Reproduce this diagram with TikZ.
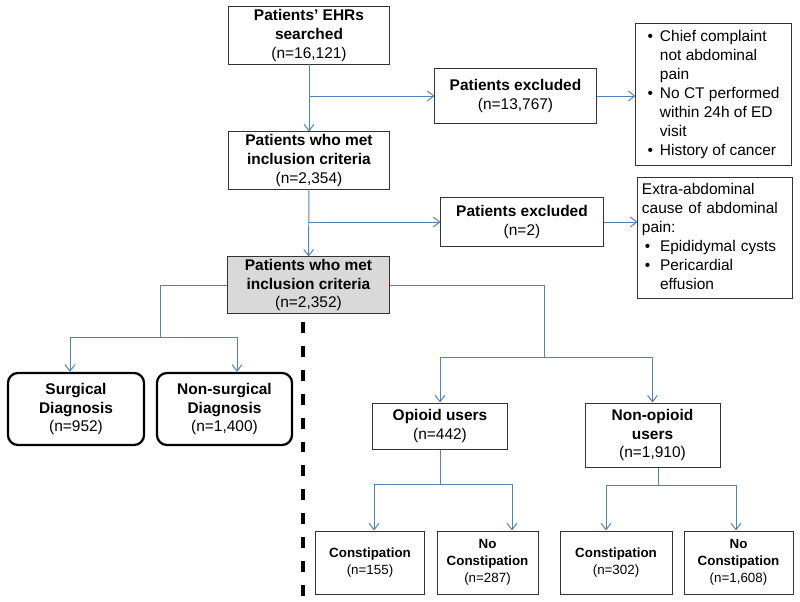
\documentclass[tikz,border=0pt]{standalone}
\usepackage{fontspec}
\setmainfont{Liberation Sans}
\usetikzlibrary{arrows.meta}
\definecolor{linkblue}{RGB}{79,129,189}
\definecolor{boxgrey}{RGB}{217,217,217}
\begin{document}
\begin{tikzpicture}[x=0.025cm, y=-0.025cm,
  box/.style={draw=black!80, line width=0.7pt, inner sep=0pt, align=center, font=\fontsize{11}{13.5}\selectfont},
  smallbox/.style={box, minimum height=1.575cm, font=\fontsize{9.5}{12}\selectfont},
  armbox/.style={box, draw=black, line width=1.6pt, rounded corners=0.25cm, minimum width=3.4cm, minimum height=1.8cm},
  link/.style={draw=linkblue, line width=0.7pt},
  >={Straight Barb[length=4.5pt,width=7pt]}]
\useasboundingbox (0,0) rectangle (800,602);

% screening
\node (A) at (309,35.5) [box, minimum width=4cm, minimum height=1.425cm] {\textbf{Patients’ EHRs}\\\textbf{searched}\\(n=16,121)};
\node (excl1) at (515.5,96) [box, minimum width=4.025cm, minimum height=1.35cm] {\textbf{Patients excluded}\\(n=13,767)};
\node (bul1) at (713.5,94.5) [box, minimum width=3.875cm, minimum height=3.525cm] {\begin{tabular}{@{}l@{\hspace{5pt}}l@{}}
\textbullet & Chief complaint\\ & not abdominal\\ & pain\\
\textbullet & No CT performed\\ & within 24h of ED\\ & visit\\
\textbullet & History of cancer\end{tabular}};
\node (B) at (309,160.5) [box, minimum width=4cm, minimum height=1.425cm] {\textbf{Patients who met}\\\textbf{inclusion criteria}\\(n=2,354)};
\node (excl2) at (522,222) [box, minimum width=4.05cm, minimum height=1.2cm] {\textbf{Patients excluded}\\(n=2)};
\node (bul2) at (715,238) [box, align=left, text width=3.65cm, minimum width=3.85cm, minimum height=3cm] {\begin{tabular}{@{\hspace{2pt}}l@{\hspace{7pt}}l@{}}
\multicolumn{2}{@{}l@{}}{Extra-abdominal}\\ \multicolumn{2}{@{}l@{}}{cause of abdominal}\\ \multicolumn{2}{@{}l@{}}{pain:}\\
\textbullet & Epididymal cysts\\ \textbullet & Pericardial\\ & effusion\end{tabular}};
\node (C) at (308.5,285) [box, fill=boxgrey, minimum width=4.025cm, minimum height=1.4cm] {\textbf{Patients who met}\\\textbf{inclusion criteria}\\(n=2,352)};

% diagnosis
\node (surg) at (76,409) [armbox] {\textbf{Surgical}\\\textbf{Diagnosis}\\(n=952)};
\node (nonsurg) at (224.5,409) [armbox, minimum width=3.375cm] {\textbf{Non-surgical}\\\textbf{Diagnosis}\\(n=1,400)};

% opioid use
\node (opioid) at (440,426) [box, minimum width=3.35cm, minimum height=1.15cm] {\textbf{Opioid users}\\(n=442)};
\node (nonop) at (652.5,435) [box, minimum width=3.375cm, minimum height=1.6cm] {\textbf{Non-opioid}\\\textbf{users}\\(n=1,910)};
\node (con1) at (370,562.5) [smallbox, minimum width=2.7cm] {\textbf{Constipation}\\(n=155)};
\node (nocon1) at (487.5,562.5) [smallbox, minimum width=2.525cm] {\textbf{No}\\\textbf{Constipation}\\(n=287)};
\node (con2) at (616,562.5) [smallbox, minimum width=2.8cm] {\textbf{Constipation}\\(n=302)};
\node (nocon2) at (738.5,562.5) [smallbox, minimum width=2.725cm] {\textbf{No}\\\textbf{Constipation}\\(n=1,608)};

\coordinate (cl) at (160,337);
\coordinate (sl) at (70,337);
\coordinate (sr) at (237,337);
\coordinate (cr) at (544,357);
\coordinate (ob) at (440,484);
\coordinate (o1) at (374,484);
\coordinate (o2) at (512,484);
\coordinate (nb) at (658,485);
\coordinate (n1) at (606,485);
\coordinate (n2) at (736,485);
\coordinate (dtop) at (303,322);
\coordinate (dbot) at (303,602);

\draw[link, ->] (A) -- (B);
\draw[link, ->] (A.south |- excl1) -- (excl1);
\draw[link, ->] (excl1) -- (excl1 -| bul1.west);
\draw[link, ->] (B) -- (C);
\draw[link, ->] (B.south |- excl2) -- (excl2);
\draw[link, ->] (excl2) -- (excl2 -| bul2.west);

\draw[link] (C.west) -| (cl);
\draw[link] (sl) -- (sr);
\draw[link, ->] (sl) -- (sl |- surg.north);
\draw[link, ->] (sr) -- (sr |- nonsurg.north);

\draw[link] (C.east) -| (cr);
\draw[link, ->] (cr) -| (opioid);
\draw[link, ->] (cr) -| (nonop);
\draw[link] (opioid.south) -- (ob);
\draw[link] (o1) -- (o2);
\draw[link, ->] (o1) -- (o1 |- con1.north);
\draw[link, ->] (o2) -- (o2 |- nocon1.north);
\draw[link] (nb |- nonop.south) -- (nb);
\draw[link] (n1) -- (n2);
\draw[link, ->] (n1) -- (n1 |- con2.north);
\draw[link, ->] (n2) -- (n2 |- nocon2.north);

\draw[line width=2.5pt, dash pattern=on 7.8pt off 9.2pt] (dtop) -- (dbot);
\end{tikzpicture}
\end{document}
